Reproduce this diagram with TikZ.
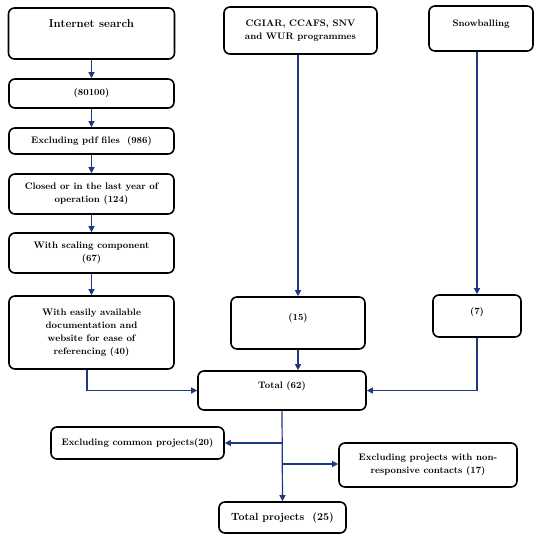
\documentclass[tikz,border=0pt]{standalone}
\usetikzlibrary{arrows.meta}

\definecolor{flowblue}{RGB}{31,56,128}
\tikzset{
    box/.style={draw, line width=1.6bp, rounded corners=6bp, align=center, inner sep=2bp,
        font=\bfseries\fontsize{9.5}{13}\selectfont},
    flow/.style={draw=flowblue, line width=1.2bp, -{Triangle[length=6bp,width=6bp]}},
}

\begin{document}
\begin{tikzpicture}[x=1bp,y=-1bp]
    \useasboundingbox (0,0) rectangle (550,537);

    % Left column: the internet search and its filters
    \node[box, minimum width=166bp, minimum height=51bp, text depth=19bp,
        font=\bfseries\fontsize{11.5}{13}\selectfont] (search) at (91.5,33.5) {Internet search};
    \node[box, minimum width=165bp, minimum height=29bp] (hits) at (91.5,93.5) {(80100)};
    \node[box, minimum width=165bp, minimum height=26bp] (nopdf) at (91.5,141) {Excluding pdf files\ \ (986)};
    \node[box, minimum width=165bp, minimum height=40bp] (closed) at (91.5,194) {Closed or in the last year of\\operation (124)};
    \node[box, minimum width=165bp, minimum height=40bp] (scaling) at (91.5,253) {With scaling component\\(67)};
    \node[box, minimum width=165bp, minimum height=73bp] (docs) at (91.5,332.5) {With easily available\\documentation and\\website for ease of\\referencing (40)};

    % Middle and right columns: programmes and snowballing
    \node[box, minimum width=153bp, minimum height=47bp] (progs) at (300.5,30.5) {CGIAR, CCAFS, SNV\\and WUR programmes};
    \node[box, minimum width=104bp, minimum height=45bp, text depth=11bp] (snow) at (481,28.5) {Snowballing};
    \node[box, minimum width=134bp, minimum height=52bp, text depth=12bp] (fifteen) at (298,323) {(15)};
    \node[box, minimum width=88bp, minimum height=42bp, text depth=10bp] (seven) at (477,316) {(7)};

    % Totals and the last exclusions
    \node[box, minimum width=168bp, minimum height=39bp, text depth=11bp] (total) at (282,390.5) {Total (62)};
    \node[box, minimum width=173bp, minimum height=32bp] (common) at (137.5,443) {Excluding common projects(20)};
    \node[box, minimum width=178bp, minimum height=44bp] (noreply) at (428,465) {Excluding projects with non-\\responsive contacts (17)};
    \node[box, minimum width=127bp, minimum height=31bp,
        font=\bfseries\fontsize{10.5}{12}\selectfont] (final) at (282.5,517.5) {Total projects\ \ (25)};

    % Arrows down the left column
    \draw[flow] (search) -- (hits);
    \draw[flow] (hits) -- (nopdf);
    \draw[flow] (nopdf) -- (closed);
    \draw[flow] (closed) -- (scaling);
    \draw[flow] (scaling) -- (docs);
    \draw[flow] ([xshift=-4.5bp]docs.south) |- (total.west);

    % Arrows from the other sources
    \draw[flow] (progs.south -| fifteen.north) -- (fifteen.north);
    \draw[flow] (fifteen.south) -- (fifteen.south |- total.north);
    \draw[flow] (snow.south -| seven.north) -- (seven.north);
    \draw[flow] (seven.south) |- (total.east);

    % From the total to the final count
    \draw[flow] (total.south) -- (final.north);
    \draw[flow] (total.south |- common.east) -- (common.east);
    \draw[flow] ([yshift=1bp]total.south |- noreply.west) -- ([yshift=1bp]noreply.west);
\end{tikzpicture}
\end{document}
